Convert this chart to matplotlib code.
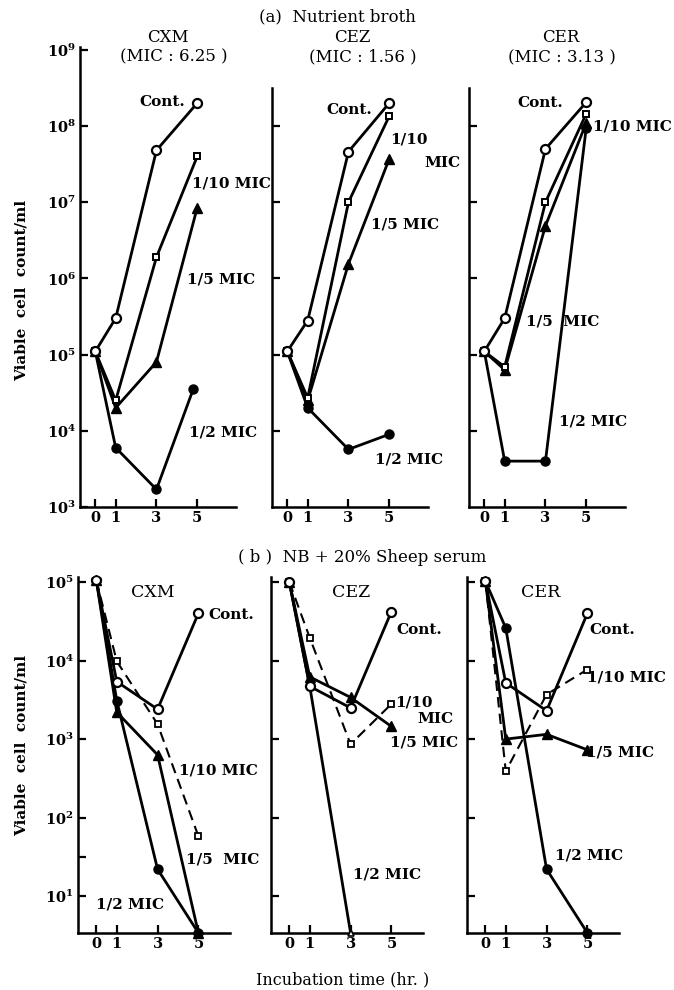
import matplotlib
matplotlib.use('Agg')
import matplotlib.pyplot as plt
from matplotlib.ticker import FixedLocator, NullFormatter, FixedFormatter

plt.rcParams['font.family'] = ['DejaVu Serif']
plt.rcParams['mathtext.fontset'] = 'dejavuserif'
plt.rcParams['mathtext.default'] = 'bf'

# ---------------- data ----------------
hours = [0, 1, 3, 5]

# (a) Nutrient broth
a_cxm_cont = [1.1e5, 3.0e5, 4.8e7, 2.0e8]
a_cxm_tenth = [1.1e5, 2.5e4, 1.9e6, 4.0e7]
a_cxm_fifth = [1.1e5, 2.0e4, 8.0e4, 8.5e6]
a_cxm_half = [1.1e5, 6.0e3, 1.7e3, 3.5e4]
a_cxm_half_hours = [0, 1, 3, 4.8]

a_cez_cont = [1.1e5, 2.8e5, 4.6e7, 2.0e8]
a_cez_tenth = [1.1e5, 2.7e4, 1.0e7, 1.35e8]
a_cez_fifth = [1.1e5, 2.5e4, 1.55e6, 3.7e7]
a_cez_half = [1.1e5, 2.0e4, 5.7e3, 9.0e3]

a_cer_cont = [1.1e5, 3.0e5, 5.0e7, 2.05e8]
a_cer_tenth = [1.1e5, 6.9e4, 1.0e7, 1.45e8]
a_cer_fifth = [1.1e5, 6.3e4, 4.9e6, 1.1e8]
a_cer_half = [1.1e5, 4.0e3, 4.0e3, 9.5e7]

# (b) NB + 20% sheep serum  (3.4 = plotted on the axis floor)
b_cxm_cont = [1.05e5, 5.4e3, 2.4e3, 4.0e4]
b_cxm_tenth = [1.05e5, 9.8e3, 1.55e3, 58]
b_cxm_fifth = [1.05e5, 2.2e3, 6.3e2, 3.4]
b_cxm_half = [1.05e5, 3.1e3, 22, 3.4]

b_cez_cont = [1.0e5, 4.7e3, 2.5e3, 4.2e4]
b_cez_tenth = [1.0e5, 1.95e4, 8.6e2, 2.8e3]
b_cez_fifth = [1.0e5, 6.2e3, 3.4e3, 1.45e3]
b_cez_half = [1.0e5, 4.7e3, 3.4]
b_cez_half_hours = [0, 1, 3]

b_cer_cont = [1.03e5, 5.2e3, 2.3e3, 4.0e4]
b_cer_tenth = [1.03e5, 3.9e2, 3.7e3, 7.7e3]
b_cer_fifth = [1.03e5, 1.0e3, 1.15e3, 7.3e2]
b_cer_half = [1.03e5, 2.6e4, 22, 3.4]

# ---------------- styles ----------------
ST_CONT = dict(color='black', lw=2.0, marker='o', ms=6.5, mfc='white', mec='black', mew=1.6)
ST_TENTH = dict(color='black', lw=2.0, marker='s', ms=5.0, mfc='white', mec='black', mew=1.4)
ST_FIFTH = dict(color='black', lw=2.0, marker='^', ms=6.5, mfc='black', mec='black')
ST_HALF = dict(color='black', lw=2.0, marker='o', ms=6.5, mfc='black', mec='black')
ST_TENTH_DASH = dict(color='black', lw=1.5, ls=(0, (5, 3)), marker='s', ms=5.0,
                     mfc='white', mec='black', mew=1.3)

W, H = 674, 990
fig = plt.figure(figsize=(W / 100, H / 100), dpi=100)


def px_axes(left, top, width, height):
    return fig.add_axes([left / W, 1 - (top + height) / H, width / W, height / H])


LBL = dict(fontsize=11, fontweight='bold')


def style_axes(ax, xlim, ylim, yticks, ylabels, spine_top, first):
    ax.set_yscale('log')
    ax.set_xlim(*xlim)
    ax.set_ylim(*ylim)
    for s in ('top', 'right'):
        ax.spines[s].set_visible(False)
    for s in ('left', 'bottom'):
        ax.spines[s].set_linewidth(1.8)
    ax.spines['left'].set_bounds(ylim[0], spine_top)
    ax.set_xticks(hours)
    ax.set_xticklabels([str(h) for h in hours], fontsize=10.5, fontweight='bold')
    ax.yaxis.set_major_locator(FixedLocator(yticks))
    ax.yaxis.set_minor_locator(FixedLocator([]))
    if first:
        ax.yaxis.set_major_formatter(FixedFormatter(ylabels))
    else:
        ax.yaxis.set_major_formatter(NullFormatter())
    ax.tick_params(axis='both', which='major', direction='in', length=6, width=1.6, pad=3)
    ax.tick_params(axis='y', labelsize=10.5)
    ax.patch.set_alpha(0)


# ---------------- (a) ----------------
top_a = 47.5
h_a = 507 - top_a
a_lefts = [80, 272, 469]
a_xlim = (-0.75, 6.9)
a_ylim = (1e3, 10 ** 9.03)
a_yt = [1e3, 1e4, 1e5, 1e6, 1e7, 1e8, 1e9]
a_lab = [r'$10^{%d}$' % k for k in range(3, 10)]

a_sets = [
    (a_cxm_cont, a_cxm_tenth, a_cxm_fifth, a_cxm_half, a_cxm_half_hours),
    (a_cez_cont, a_cez_tenth, a_cez_fifth, a_cez_half, hours),
    (a_cer_cont, a_cer_tenth, a_cer_fifth, a_cer_half, hours),
]
a_texts = [
    [('Cont.', 3.3, 10 ** 8.31, 'center'), ('1/10 MIC', 4.75, 10 ** 7.25, 'left'),
     ('1/5 MIC', 4.5, 10 ** 5.98, 'left'), ('1/2 MIC', 4.6, 10 ** 3.98, 'left')],
    [('Cont.', 1.9, 10 ** 8.21, 'left'), ('1/10', 5.05, 10 ** 7.82, 'left'),
     ('MIC', 6.7, 10 ** 7.51, 'left'), ('1/5 MIC', 4.1, 10 ** 6.71, 'left'),
     ('1/2 MIC', 4.3, 10 ** 3.62, 'left')],
    [('Cont.', 1.6, 10 ** 8.30, 'left'), ('1/10 MIC', 5.35, 10 ** 7.99, 'left'),
     ('1/5  MIC', 2.05, 10 ** 5.44, 'left'), ('1/2 MIC', 3.65, 10 ** 4.12, 'left')],
]
a_spine_tops = [10 ** 9.03, 10 ** 8.5, 10 ** 8.5]

for i in range(3):
    ax = px_axes(a_lefts[i], top_a, 156, h_a)
    cont, tenth, fifth, half, half_h = a_sets[i]
    ax.plot(half_h, half, **ST_HALF, zorder=3)
    ax.plot(hours, fifth, **ST_FIFTH, zorder=4)
    ax.plot(hours, tenth, **ST_TENTH, zorder=5)
    ax.plot(hours, cont, **ST_CONT, zorder=6)
    style_axes(ax, a_xlim, a_ylim, a_yt if i == 0 else a_yt[1:-1], a_lab, a_spine_tops[i], i == 0)
    for t, x, y, ha in a_texts[i]:
        ax.text(x, y, t, ha=ha, va='center', clip_on=False, **LBL)

# ---------------- (b) ----------------
b_bottom = 933
b_top = 933 - 4.53 * 78.5
h_b = b_bottom - b_top
b_lefts = [78, 271, 467]
b_xlim = (-0.9, 6.55)
b_ylim = (10 ** 0.53, 10 ** 5.06)
b_yt = [1e1, 1e2, 1e3, 1e4, 1e5]
b_lab = [r'$10^{%d}$' % k for k in range(1, 6)]

b_sets = [
    (b_cxm_cont, b_cxm_tenth, b_cxm_fifth, b_cxm_half, hours),
    (b_cez_cont, b_cez_tenth, b_cez_fifth, b_cez_half, b_cez_half_hours),
    (b_cer_cont, b_cer_tenth, b_cer_fifth, b_cer_half, hours),
]
b_names = ['CXM', 'CEZ', 'CER']
b_name_x = [2.75, 3.0, 2.7]
b_texts = [
    [('Cont.', 5.5, 10 ** 4.58, 'left'), ('1/10 MIC', 4.07, 10 ** 2.6, 'left'),
     ('1/5  MIC', 4.4, 10 ** 1.46, 'left'), ('1/2 MIC', 0.0, 10 ** 0.89, 'left')],
    [('Cont.', 5.25, 10 ** 4.39, 'left'), ('1/10', 5.2, 10 ** 3.46, 'left'),
     ('MIC', 6.3, 10 ** 3.25, 'left'), ('1/5 MIC', 4.95, 10 ** 2.96, 'left'),
     ('1/2 MIC', 3.1, 10 ** 1.27, 'left')],
    [('Cont.', 5.1, 10 ** 4.39, 'left'), ('1/10 MIC', 5.0, 10 ** 3.79, 'left'),
     ('1/5 MIC', 4.95, 10 ** 2.83, 'left'), ('1/2 MIC', 3.4, 10 ** 1.52, 'left')],
]

for i in range(3):
    ax = px_axes(b_lefts[i], b_top, 152, h_b)
    cont, tenth, fifth, half, half_h = b_sets[i]
    if i == 1:
        ax.plot(half_h, half, color='black', lw=2.0, zorder=3)
        ax.plot(half_h[-1:], half[-1:], ls='none', marker='^', ms=5, mfc='white',
                mec='black', mew=1.2, zorder=7, clip_on=False)
    else:
        ax.plot(half_h, half, **ST_HALF, zorder=3, clip_on=False)
    ax.plot(hours, fifth, **ST_FIFTH, zorder=4, clip_on=False)
    ax.plot(hours, tenth, **ST_TENTH_DASH, zorder=5)
    ax.plot(hours, cont, **ST_CONT, zorder=6)
    yt = b_yt + ([10 ** 1.5] if i == 0 else [])
    style_axes(ax, b_xlim, b_ylim, yt if i == 0 else b_yt[:-1], b_lab, 10 ** 5.06, i == 0)
    if i == 0:
        ax.yaxis.set_major_locator(FixedLocator(b_yt))
        ax.yaxis.set_major_formatter(FixedFormatter(b_lab))
        ax.yaxis.set_minor_locator(FixedLocator([10 ** 1.5]))
        ax.tick_params(axis='y', which='minor', direction='in', length=6, width=1.6)
        ax.yaxis.set_minor_formatter(NullFormatter())
    else:
        ax.yaxis.set_major_locator(FixedLocator(b_yt))
    ax.text(b_name_x[i], 10 ** 4.87, b_names[i], ha='center', va='center',
            fontsize=12.5, fontweight='normal')
    for t, x, y, ha in b_texts[i]:
        ax.text(x, y, t, ha=ha, va='center', clip_on=False, **LBL)

# ---------------- figure texts ----------------
def ftext(x, y, s, **kw):
    fig.text(x / W, 1 - y / H, s, ha='center', va='center', **kw)


ftext(337, 17, '(a)  Nutrient broth', fontsize=12)
ftext(168, 38, 'CXM', fontsize=12)
ftext(174, 57, '(MIC : 6.25 )', fontsize=12)
ftext(352, 38, 'CEZ', fontsize=12)
ftext(363, 57, '(MIC : 1.56 )', fontsize=12)
ftext(561, 38, 'CER', fontsize=12)
ftext(562, 57, '(MIC : 3.13 )', fontsize=12)
ftext(362, 557, '( b )  NB + 20% Sheep serum', fontsize=12)
ftext(343, 980, 'Incubation time (hr. )', fontsize=11.5)
ftext(22, 290, 'Viable  cell  count/ml', fontsize=11, fontweight='bold', rotation=90)
ftext(22, 745, 'Viable  cell  count/ml', fontsize=11, fontweight='bold', rotation=90)

fig.savefig('out.png', dpi=100, facecolor='white')
